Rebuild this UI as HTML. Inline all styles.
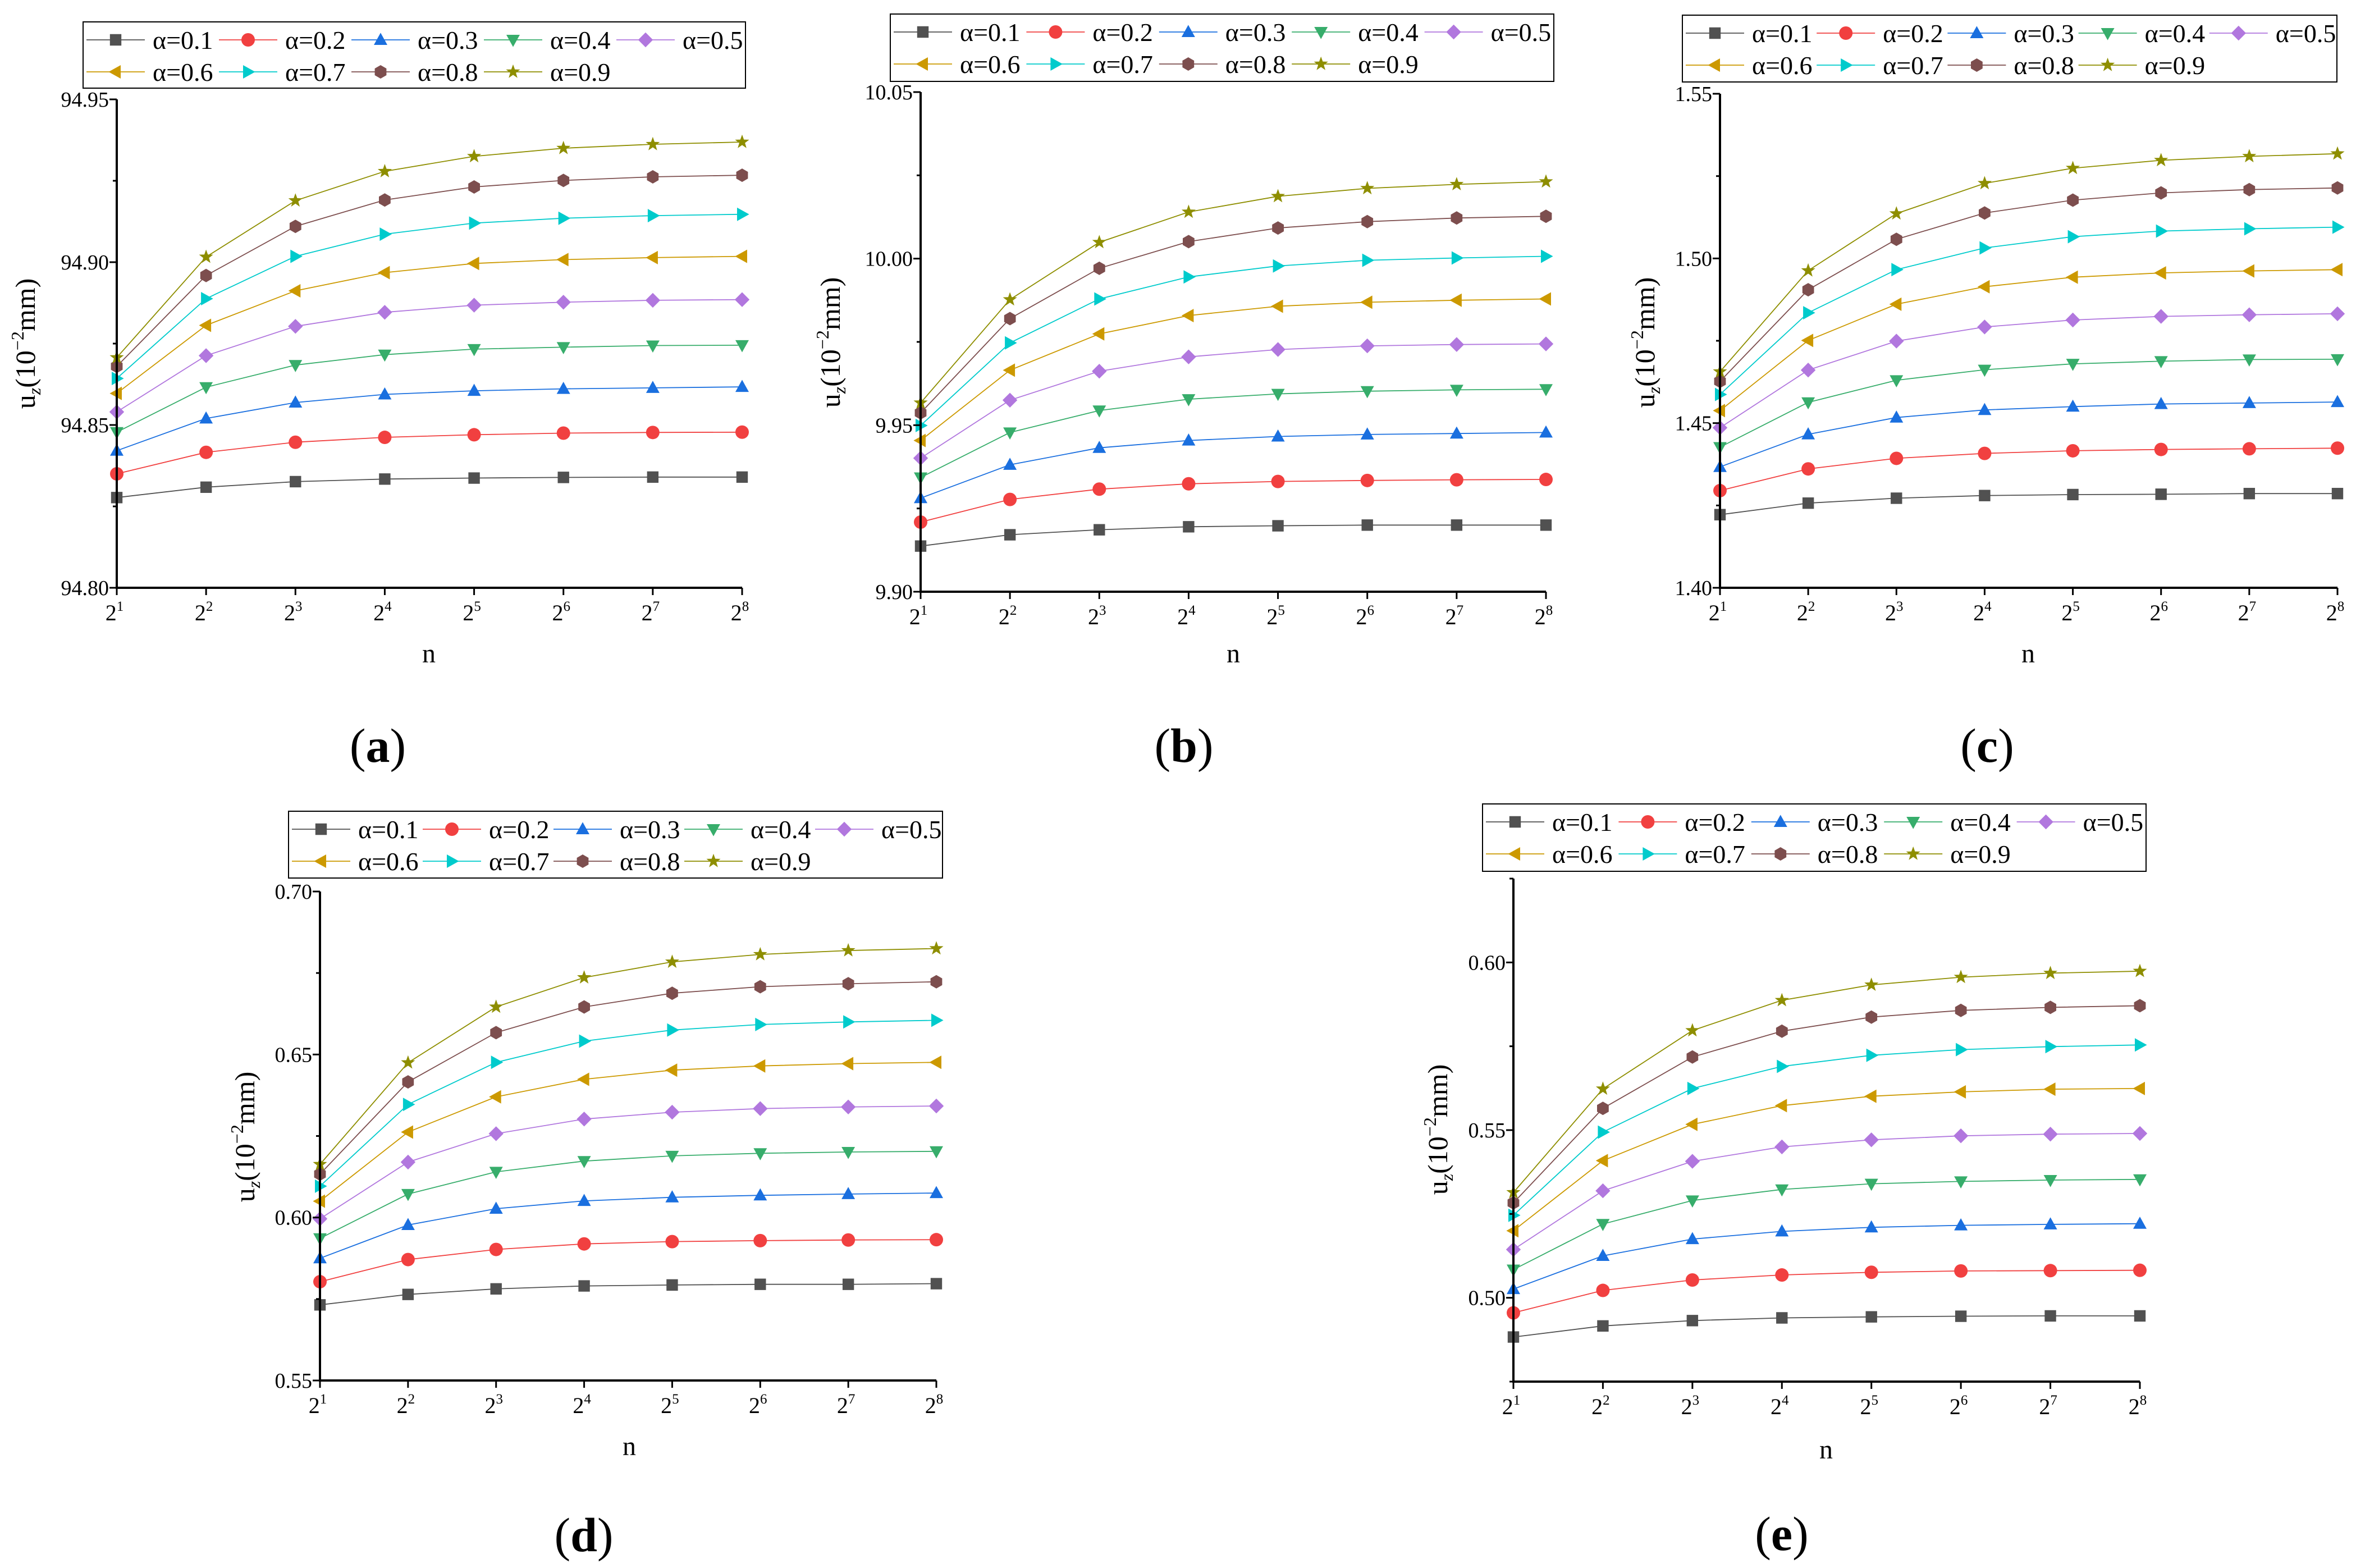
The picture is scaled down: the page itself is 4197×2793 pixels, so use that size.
<!DOCTYPE html>
<html><head><meta charset="utf-8"><style>
html,body{margin:0;padding:0;background:#fff;}
svg{display:block;font-family:"Liberation Serif",serif;}
</style></head><body>
<svg id="fig" xmlns="http://www.w3.org/2000/svg" width="4197" height="2793" viewBox="0 0 4197 2793">
<rect width="4197" height="2793" fill="#fff"/>
</svg>
<script>
const categories = [1,2,3,4,5,6,7,8];
const alphaLabels = ['α=0.1','α=0.2','α=0.3','α=0.4','α=0.5','α=0.6','α=0.7','α=0.8','α=0.9'];
const seriesA = [
[94.8277,94.8309,94.8326,94.8334,94.8337,94.8339,94.8340,94.8340],
[94.8350,94.8416,94.8447,94.8462,94.8470,94.8475,94.8477,94.8478],
[94.8421,94.8520,94.8569,94.8594,94.8605,94.8611,94.8614,94.8617],
[94.8478,94.8616,94.8684,94.8716,94.8733,94.8739,94.8744,94.8745],
[94.8540,94.8713,94.8803,94.8846,94.8868,94.8877,94.8883,94.8885],
[94.8597,94.8806,94.8912,94.8968,94.8996,94.9008,94.9014,94.9018],
[94.8643,94.8888,94.9018,94.9086,94.9120,94.9135,94.9143,94.9147],
[94.8680,94.8959,94.9110,94.9191,94.9231,94.9251,94.9262,94.9267],
[94.8707,94.9016,94.9189,94.9279,94.9325,94.9350,94.9362,94.9369]];
const seriesB = [
[9.9137,9.9171,9.9186,9.9195,9.9198,9.9200,9.9200,9.9200],
[9.9209,9.9277,9.9308,9.9324,9.9331,9.9334,9.9336,9.9337],
[9.9281,9.9381,9.9432,9.9454,9.9466,9.9472,9.9475,9.9478],
[9.9343,9.9478,9.9544,9.9578,9.9594,9.9602,9.9606,9.9608],
[9.9401,9.9575,9.9662,9.9705,9.9727,9.9738,9.9742,9.9744],
[9.9454,9.9665,9.9774,9.9829,9.9857,9.9869,9.9875,9.9879],
[9.9499,9.9747,9.9879,9.9945,9.9978,9.9995,10.0002,10.0007],
[9.9537,9.9820,9.9971,10.0051,10.0092,10.0111,10.0122,10.0127],
[9.9567,9.9877,10.0049,10.0140,10.0187,10.0211,10.0223,10.0231]];
const seriesC = [
[1.4222,1.4257,1.4272,1.4280,1.4283,1.4284,1.4286,1.4286],
[1.4295,1.4361,1.4393,1.4408,1.4416,1.4420,1.4422,1.4424],
[1.4367,1.4466,1.4517,1.4540,1.4550,1.4558,1.4561,1.4564],
[1.4427,1.4563,1.4630,1.4662,1.4680,1.4688,1.4693,1.4694],
[1.4486,1.4661,1.4749,1.4792,1.4813,1.4824,1.4829,1.4832],
[1.4538,1.4751,1.4861,1.4914,1.4943,1.4956,1.4962,1.4966],
[1.4587,1.4835,1.4966,1.5032,1.5066,1.5083,1.5090,1.5095],
[1.4627,1.4905,1.5058,1.5138,1.5177,1.5199,1.5209,1.5214],
[1.4656,1.4963,1.5136,1.5228,1.5274,1.5298,1.5310,1.5318]];
const seriesD = [
[0.5732,0.5764,0.5781,0.5790,0.5793,0.5795,0.5795,0.5797],
[0.5803,0.5871,0.5902,0.5919,0.5926,0.5929,0.5931,0.5932],
[0.5875,0.5977,0.6027,0.6051,0.6062,0.6068,0.6072,0.6075],
[0.5936,0.6072,0.6140,0.6173,0.6189,0.6197,0.6201,0.6203],
[0.5996,0.6170,0.6257,0.6302,0.6323,0.6334,0.6339,0.6342],
[0.6050,0.6262,0.6370,0.6424,0.6452,0.6465,0.6472,0.6476],
[0.6096,0.6347,0.6476,0.6541,0.6575,0.6592,0.6600,0.6605],
[0.6133,0.6416,0.6567,0.6646,0.6688,0.6708,0.6717,0.6723],
[0.6163,0.6475,0.6646,0.6736,0.6784,0.6807,0.6819,0.6825]];
const seriesE = [
[0.4883,0.4916,0.4932,0.4940,0.4943,0.4945,0.4946,0.4946],
[0.4955,0.5022,0.5053,0.5068,0.5076,0.5080,0.5081,0.5082],
[0.5026,0.5125,0.5175,0.5198,0.5210,0.5216,0.5219,0.5221],
[0.5084,0.5220,0.5290,0.5323,0.5340,0.5347,0.5351,0.5353],
[0.5144,0.5319,0.5407,0.5450,0.5471,0.5483,0.5488,0.5490],
[0.5200,0.5409,0.5517,0.5573,0.5601,0.5614,0.5622,0.5624],
[0.5246,0.5494,0.5624,0.5690,0.5723,0.5740,0.5749,0.5754],
[0.5283,0.5565,0.5718,0.5795,0.5837,0.5857,0.5866,0.5871],
[0.5314,0.5623,0.5797,0.5887,0.5933,0.5956,0.5968,0.5974]];
const yTicksA = ['94.80','94.85','94.90','94.95'];
const yTicksB = ['9.90','9.95','10.00','10.05'];
const yTicksC = ['1.40','1.45','1.50','1.55'];
const yTicksD = ['0.55','0.60','0.65','0.70'];
const yTicksE = ['0.50','0.55','0.60'];
const colors = ['#515151','#F14040','#1A6FDF','#37AD6B','#B177DE','#CC9900','#00CBCC','#7D4E4E','#8E8E00'];
const shapes = ['square','circle','up','down','diamond','left','right','hex','star'];

const NS='http://www.w3.org/2000/svg';
const svg=document.getElementById('fig');
function mk(tag,attrs,parent){const e=document.createElementNS(NS,tag);for(const k in attrs)e.setAttribute(k,attrs[k]);(parent||svg).appendChild(e);return e;}

function markerPath(shape,cx,cy,r){
  let pts=[];
  if(shape==='square')return `M${cx-r*0.85},${cy-r*0.85}h${r*1.7}v${r*1.7}h${-r*1.7}Z`;
  if(shape==='circle')return `M${cx-r},${cy}a${r},${r} 0 1,0 ${2*r},0a${r},${r} 0 1,0 ${-2*r},0Z`;
  const poly=(arr)=>'M'+arr.map(p=>p[0].toFixed(1)+','+p[1].toFixed(1)).join('L')+'Z';
  if(shape==='up')return poly([[cx,cy-r*1.05],[cx+r,cy+r*0.75],[cx-r,cy+r*0.75]]);
  if(shape==='down')return poly([[cx,cy+r*1.05],[cx+r,cy-r*0.75],[cx-r,cy-r*0.75]]);
  if(shape==='left')return poly([[cx-r*1.05,cy],[cx+r*0.75,cy-r],[cx+r*0.75,cy+r]]);
  if(shape==='right')return poly([[cx+r*1.05,cy],[cx-r*0.75,cy-r],[cx-r*0.75,cy+r]]);
  if(shape==='diamond')return poly([[cx,cy-r*1.1],[cx+r*1.1,cy],[cx,cy+r*1.1],[cx-r*1.1,cy]]);
  if(shape==='hex'){for(let i=0;i<6;i++){const a=Math.PI/6+i*Math.PI/3;pts.push([cx+r*Math.cos(a),cy+r*Math.sin(a)]);}return poly(pts);}
  if(shape==='star'){for(let i=0;i<10;i++){const a=-Math.PI/2+i*Math.PI/5;const rr=i%2?r*0.45:r*1.1;pts.push([cx+rr*Math.cos(a),cy+rr*Math.sin(a)]);}return poly(pts);}
}

function drawPanel(cfg,series,yTicks){
  const g=mk('g',{});
  
  
  const xs=i=>cfg.x0+(cfg.x1-cfg.x0)*(categories[i]-categories[0])/(categories[categories.length-1]-categories[0]);
  const ys=v=>cfg.yb+(cfg.yt-cfg.yb)*(v-cfg.vmin)/(cfg.vmax-cfg.vmin);
  // series
  series.forEach((s,si)=>{
    const sg=mk('g',{},g);
    
    
    const d='M'+s.map((v,i)=>xs(i).toFixed(1)+','+ys(v).toFixed(1)).join('L');
    const ln=mk('path',{d:d,fill:'none',stroke:colors[si],'stroke-width':1.8},sg);
    
    
    s.forEach((v,i)=>{
      const m=mk('path',{d:markerPath(shapes[si],xs(i),ys(v),12),fill:colors[si]},sg);
      
      
    });
  });
  // axes
  const ax=mk('path',{d:`M${cfg.x0},${cfg.yt}V${cfg.yb}H${cfg.x1}`,fill:'none',stroke:'#000','stroke-width':4},g);
  
  
  // y ticks
  const yg=mk('g',{},g);
  
  
  yTicks.forEach(t=>{
    const v=parseFloat(t),y=ys(v);
    mk('line',{x1:cfg.x0-13,x2:cfg.x0,y1:y,y2:y,stroke:'#000','stroke-width':3},yg);
    const tx=mk('text',{x:cfg.x0-14,y:y+13,'text-anchor':'end','font-size':38},yg);
    tx.textContent=t;
    
    
  });
  for(let v=cfg.vmin+cfg.minorStart;v<=cfg.vmax+1e-9;v+=0.05){
    const y=ys(v);mk('line',{x1:cfg.x0-7,x2:cfg.x0,y1:y,y2:y,stroke:'#000','stroke-width':3},yg);
  }
  // x ticks
  const xg=mk('g',{},g);
  
  
  categories.forEach((c,i)=>{
    const x=xs(i);
    mk('line',{x1:x,x2:x,y1:cfg.yb,y2:cfg.yb+13,stroke:'#000','stroke-width':3},xg);
    const tx=mk('text',{x:x-4,y:cfg.yb+58,'text-anchor':'middle','font-size':40},xg);
    
    
    const t1=mk('tspan',{},tx);t1.textContent='2';
    const t2=mk('tspan',{'font-size':25,dy:-17},tx);t2.textContent=String(c);
  });
  // axis titles
  const xt=mk('text',{x:cfg.nx,y:cfg.ny,'text-anchor':'middle','font-size':48},g);
  xt.textContent='n';
  
  
  const yt=mk('text',{transform:`translate(${cfg.tx},${cfg.ty}) rotate(-90)`,'text-anchor':'middle','font-size':50},g);
  
  
  const a1=mk('tspan',{},yt);a1.textContent='u';
  const a2=mk('tspan',{'font-size':32,dy:10,'font-style':'italic'},yt);a2.textContent='z';
  const a3=mk('tspan',{dy:-10},yt);a3.textContent='(10';
  const a4=mk('tspan',{'font-size':32,dy:-20},yt);a4.textContent='−2';
  const a5=mk('tspan',{dy:20},yt);a5.textContent='mm)';
  // legend
  const lg=mk('g',{},g);
  
  
  mk('rect',{x:cfg.lx,y:cfg.ly,width:cfg.lw,height:cfg.lh,fill:'#fff',stroke:'#000','stroke-width':2},lg);
  const cw=cfg.lw/5;
  alphaLabels.forEach((lab,i)=>{
    const col=i%5,row=Math.floor(i/5);
    const x=cfg.lx+6+col*cw,y=cfg.ly+(row?89:32);
    const eg=mk('g',{},lg);
    
    
    mk('line',{x1:x,x2:x+104,y1:y,y2:y,stroke:colors[i],'stroke-width':1.8},eg);
    mk('path',{d:markerPath(shapes[i],x+52,y,12),fill:colors[i]},eg);
    const t=mk('text',{x:x+118,y:y+16,'font-size':46},eg);t.textContent=lab;
  });
  // panel label
  const pl=mk('text',{x:cfg.px,y:cfg.py,'text-anchor':'middle','font-size':86},g);
  
  
  const p1=mk('tspan',{},pl);p1.textContent='(';
  const p2=mk('tspan',{'font-weight':'bold'},pl);p2.textContent=cfg.id;
  const p3=mk('tspan',{},pl);p3.textContent=')';
}

drawPanel({id:'a',x0:208,x1:1322,yt:177,yb:1047,vmin:94.80,vmax:94.95,minorStart:0.025,nx:764,ny:1180,tx:62,ty:612,lx:148,ly:39,lw:1180,lh:118,px:673,py:1357},seriesA,yTicksA);
drawPanel({id:'b',x0:1640,x1:2754,yt:164,yb:1054,vmin:9.90,vmax:10.05,minorStart:0.025,nx:2197,ny:1180,tx:1496,ty:610,lx:1586,ly:25,lw:1182,lh:120,px:2109,py:1357},seriesB,yTicksB);
drawPanel({id:'c',x0:3064,x1:4164,yt:167,yb:1047,vmin:1.40,vmax:1.55,minorStart:0.025,nx:3613,ny:1180,tx:2947,ty:610,lx:2997,ly:27,lw:1166,lh:119,px:3540,py:1357},seriesC,yTicksC);
drawPanel({id:'d',x0:570,x1:1668,yt:1588,yb:2459,vmin:0.55,vmax:0.70,minorStart:0.025,nx:1121,ny:2592,tx:453,ty:2025,lx:514,ly:1445,lw:1165,lh:119,px:1040,py:2763},seriesD,yTicksD);
drawPanel({id:'e',x0:2696,x1:3812,yt:1565,yb:2461,vmin:0.475,vmax:0.625,minorStart:0,nx:3253,ny:2598,tx:2578,ty:2012,lx:2641,ly:1432,lw:1182,lh:120,px:3174,py:2761},seriesE,yTicksE);
</script>
</body></html>
